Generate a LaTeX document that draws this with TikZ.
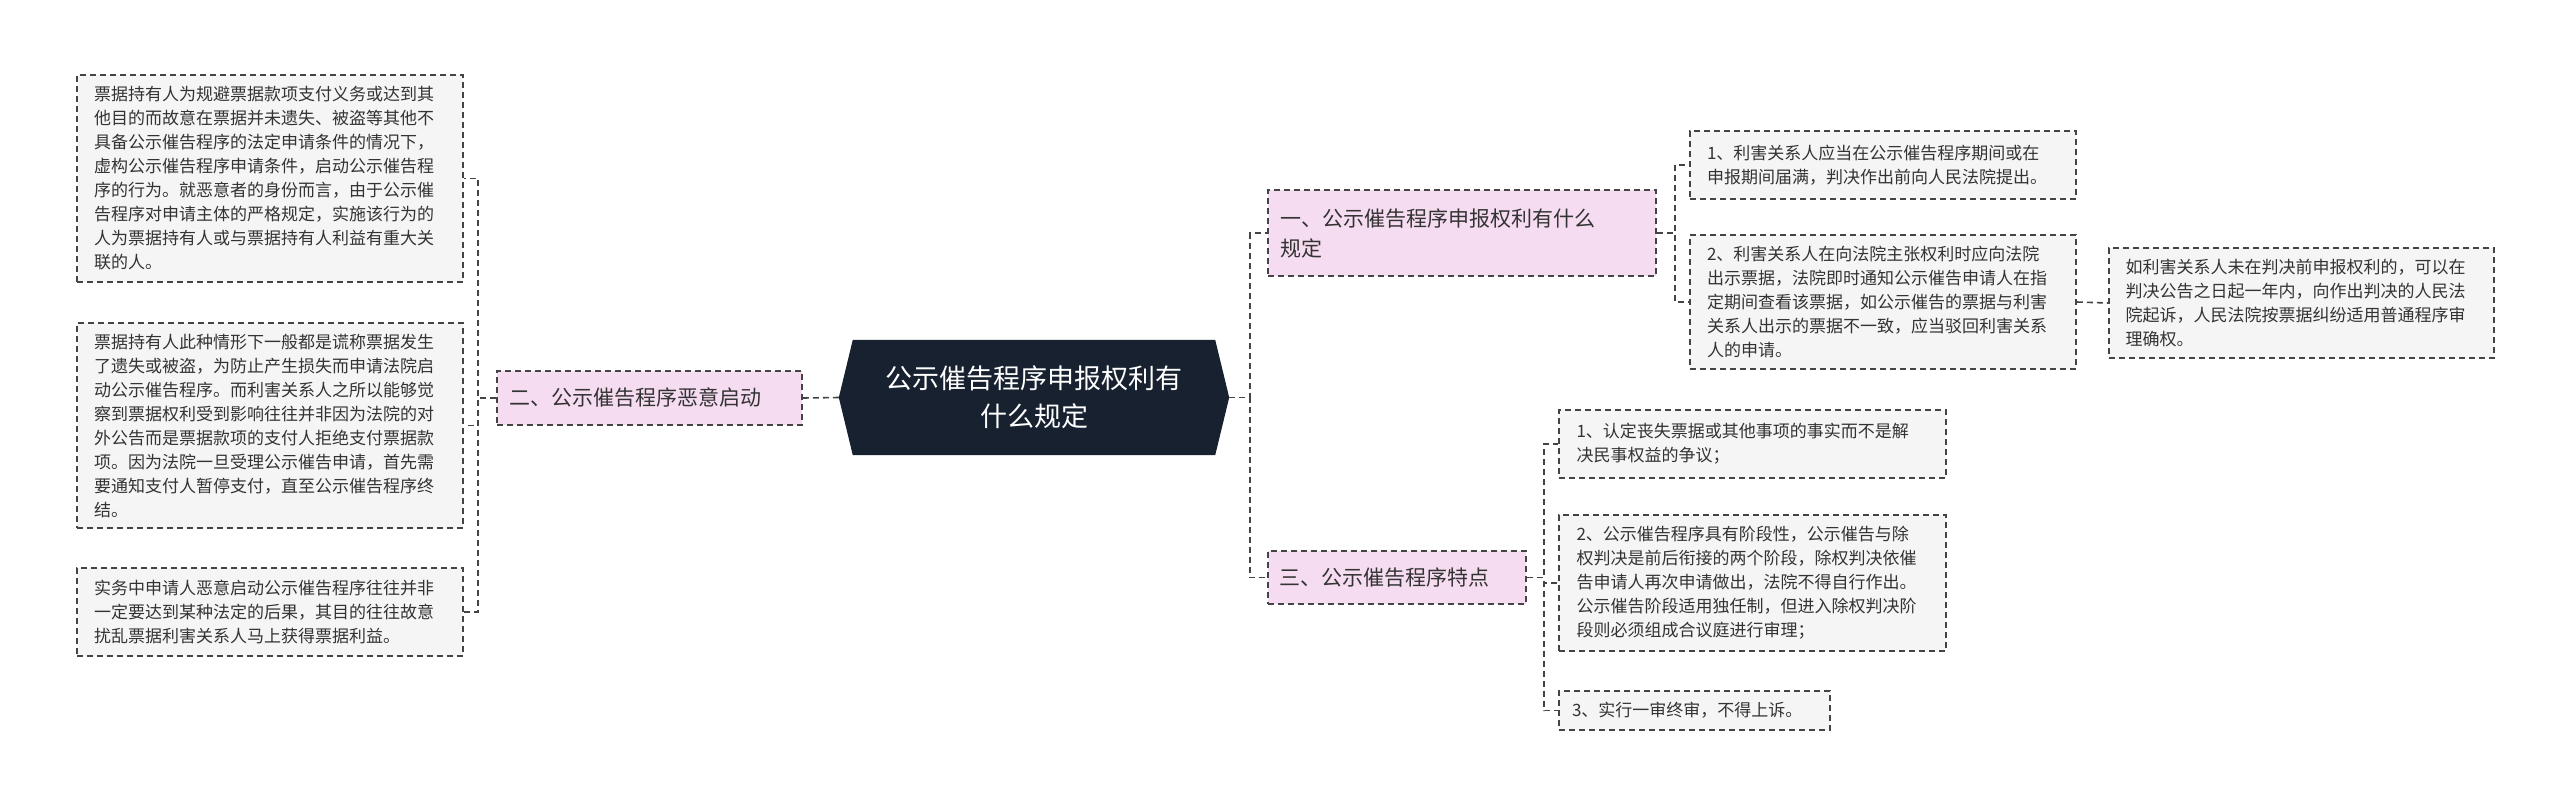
\documentclass[tikz,border=0pt]{standalone}
\usepackage{fontspec}
\setmainfont{Noto Sans CJK SC}
\usetikzlibrary{backgrounds}
\definecolor{navy}{HTML}{17212F}
\definecolor{pinkf}{HTML}{F6DCF0}
\definecolor{leaff}{HTML}{F5F5F5}
\definecolor{edge}{HTML}{444444}
\tikzset{
 leaf/.style={draw=edge,line width=1.6pt,dash pattern=on 6pt off 4pt,fill=leaff,align=left,inner sep=0pt,font=\fontsize{17}{24}\selectfont,text=black!80},
 branch/.style={draw=edge,line width=1.6pt,dash pattern=on 6pt off 4pt,fill=pinkf,align=left,inner sep=0pt,font=\fontsize{21}{30}\selectfont,text=black!80},
 conn/.style={draw=edge,line width=1.6pt,dash pattern=on 6pt off 4pt},
 bx/.style n args={3}{minimum width=#1pt,minimum height=#2pt,text width=#3pt},
}
\begin{document}
\begin{tikzpicture}[x=1pt,y=-1pt]
\useasboundingbox (0,0) rectangle (2560,807);
% center
\node[align=center,text=white,font=\fontsize{27}{38}\selectfont,minimum width=390pt,minimum height=115pt] (c) at (1034,397.5) {公示催告程序申报权利有\\什么规定};
\begin{scope}[on background layer]
\fill[navy] ([xshift=14pt]c.north west) -- ([xshift=-14pt]c.north east) -- (c.east) -- ([xshift=-14pt]c.south east) -- ([xshift=14pt]c.south west) -- (c.west) -- cycle;
\end{scope}
% left
\node[branch,bx={305}{54}{281}] (l) at (649.5,398) {二、公示催告程序恶意启动};
\node[leaf,bx={386}{207}{352}] (l1) at (270,178.5) {票据持有人为规避票据款项支付义务或达到其\\他目的而故意在票据并未遗失、被盗等其他不\\具备公示催告程序的法定申请条件的情况下，\\虚构公示催告程序申请条件，启动公示催告程\\序的行为。就恶意者的身份而言，由于公示催\\告程序对申请主体的严格规定，实施该行为的\\人为票据持有人或与票据持有人利益有重大关\\联的人。};
\node[leaf,bx={386}{205}{352}] (l2) at (270,425.5) {票据持有人此种情形下一般都是谎称票据发生\\了遗失或被盗，为防止产生损失而申请法院启\\动公示催告程序。而利害关系人之所以能够觉\\察到票据权利受到影响往往并非因为法院的对\\外公告而是票据款项的支付人拒绝支付票据款\\项。因为法院一旦受理公示催告申请，首先需\\要通知支付人暂停支付，直至公示催告程序终\\结。};
\node[leaf,bx={386}{88}{352}] (l3) at (270,612) {实务中申请人恶意启动公示催告程序往往并非\\一定要达到某种法定的后果，其目的往往故意\\扰乱票据利害关系人马上获得票据利益。};
% right 1
\node[branch,bx={388}{86}{364}] (r1) at (1462,233) {一、公示催告程序申报权利有什么\\规定};
\node[leaf,bx={386}{68}{352}] (r11) at (1883,165) {1、利害关系人应当在公示催告程序期间或在\\申报期间届满，判决作出前向人民法院提出。};
\node[leaf,bx={386}{134}{352}] (r12) at (1883,302) {2、利害关系人在向法院主张权利时应向法院\\出示票据，法院即时通知公示催告申请人在指\\定期间查看该票据，如公示催告的票据与利害\\关系人出示的票据不一致，应当驳回利害关系\\人的申请。};
\node[leaf,bx={385}{110}{352}] (r121) at (2301.5,303) {如利害关系人未在判决前申报权利的，可以在\\判决公告之日起一年内，向作出判决的人民法\\院起诉，人民法院按票据纠纷适用普通程序审\\理确权。};
% right 3
\node[branch,bx={258}{53}{236}] (r3) at (1397,577.5) {三、公示催告程序特点};
\node[leaf,bx={387}{68}{352}] (r31) at (1752.5,444) {1、认定丧失票据或其他事项的事实而不是解\\决民事权益的争议；};
\node[leaf,bx={387}{136}{352}] (r32) at (1752.5,583) {2、公示催告程序具有阶段性，公示催告与除\\权判决是前后衔接的两个阶段，除权判决依催\\告申请人再次申请做出，法院不得自行作出。\\公示催告阶段适用独任制，但进入除权判决阶\\段则必须组成合议庭进行审理；};
\node[leaf,bx={271}{39}{245}] (r33) at (1694.5,710.5) {3、实行一审终审，不得上诉。};
% connectors
\draw[conn] (c.west) -- (l.east);
\draw[conn] (l.west) -- ++(-18,0) |- (l1.east);
\draw[conn] (l.west) -- ++(-18,0) |- (l2.east);
\draw[conn] (l.west) -- ++(-18,0) |- (l3.east);
\draw[conn] (c.east) -- ++(21,0) |- (r1.west);
\draw[conn] (c.east) -- ++(21,0) |- (r3.west);
\draw[conn] (r1.east) -- ++(18,0) |- (r11.west);
\draw[conn] (r1.east) -- ++(18,0) |- (r12.west);
\draw[conn] (r12.east) -- (r121.west);
\draw[conn] (r3.east) -- ++(17,0) |- (r31.west);
\draw[conn] (r3.east) -- ++(17,0) |- (r32.west);
\draw[conn] (r3.east) -- ++(17,0) |- (r33.west);
\end{tikzpicture}
\end{document}
